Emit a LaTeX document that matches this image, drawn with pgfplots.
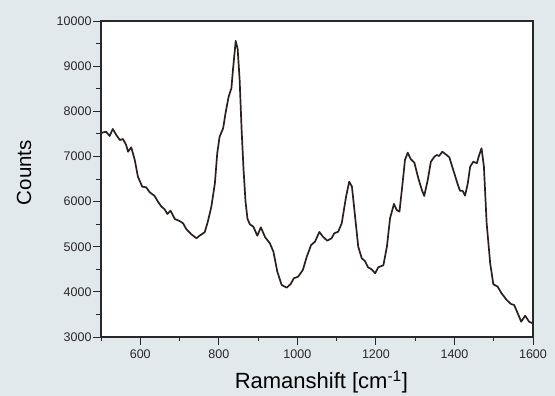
\documentclass[border=0pt]{standalone}
\usepackage{pgfplots}
\pgfplotsset{compat=1.18}
\usepackage{fontspec}
\setmainfont{Liberation Sans}
\definecolor{bgc}{RGB}{226,233,237}
\definecolor{linec}{RGB}{42,32,30}
\definecolor{axc}{RGB}{40,40,40}
\begin{document}
\begin{tikzpicture}
\fill[bgc] (-101pt,-59pt) rectangle (454pt,337pt);
\begin{axis}[
  at={(0,0)}, anchor=south west,
  scale only axis, width=432pt, height=316pt,
  xmin=500, xmax=1600, ymin=3000, ymax=10000,
  axis background/.style={fill=white},
  axis line style={axc, line width=1.1pt},
  xtick={600,800,...,1600}, minor xtick={500,700,...,1500},
  ytick={3000,4000,...,10000}, minor ytick={3500,4500,...,9500},
  scaled y ticks=false, scaled x ticks=false,
  xtick pos=bottom, ytick pos=left,
  tick align=outside,
  major tick length=8pt, minor tick length=4.5pt,
  every tick/.style={axc, line width=0.9pt},
  /pgf/number format/assume math mode=true,
  /pgf/number format/1000 sep={},
  tick label style={font=\fontsize{12.5}{14}\selectfont, text=axc},
  yticklabel style={xshift=2pt},
  xticklabel style={yshift=-1pt},
  xlabel={Ramanshift [cm\textsuperscript{-1}]},
  ylabel={Counts},
  xlabel style={font=\fontsize{22}{26}\selectfont, at={(axis description cs:0.51,-0.164)}, anchor=base},
  ylabel style={font=\fontsize{20.5}{24}\selectfont, at={(axis description cs:-0.178,0.52)}, anchor=center, rotate=0},
  clip=true,
]
\addplot[linec, line width=1.7pt, line join=round] coordinates {
(500,7520) (513,7548) (522,7453) (530,7608) (539,7475) (548,7364) (556,7386)
(564,7253) (569,7105) (577,7202) (586,6921) (594,6551) (605,6330) (615,6316)
(624,6206) (636,6130) (645,5998) (654,5887) (662,5829) (669,5725) (677,5798)
(688,5614) (700,5570) (709,5519) (717,5393) (730,5275) (743,5187) (751,5244)
(764,5320) (772,5554) (781,5887) (790,6405) (796,7070) (802,7437) (811,7623)
(817,7955) (825,8323) (832,8509) (836,8915) (843,9560) (848,9380) (853,8700)
(858,7600) (863,6700) (868,6000) (873,5620) (879,5497) (888,5444) (898,5244)
(907,5430) (918,5209) (930,5076) (939,4890) (949,4447) (960,4152) (973,4093)
(983,4175) (991,4301) (1002,4336) (1014,4485) (1024,4780) (1035,5038) (1045,5112)
(1056,5327) (1065,5222) (1076,5134) (1087,5187) (1094,5297) (1104,5333) (1113,5519)
(1124,6108) (1132,6440) (1139,6330) (1147,5665) (1155,5001) (1164,4743) (1172,4684)
(1180,4544) (1189,4500) (1198,4411) (1206,4544) (1219,4589) (1228,5000) (1236,5630)
(1246,5947) (1253,5814) (1260,5776) (1267,6330) (1274,6921) (1281,7083) (1289,6937)
(1298,6862) (1308,6516) (1317,6257) (1323,6124) (1332,6478) (1340,6884) (1349,6994)
(1355,7032) (1361,7010) (1369,7105) (1379,7039) (1387,6981) (1393,6810) (1401,6589)
(1408,6390) (1414,6242) (1421,6235) (1427,6131) (1434,6405) (1440,6773) (1448,6884)
(1457,6848) (1463,7032) (1469,7180) (1475,6773) (1482,5519) (1491,4633) (1499,4168)
(1510,4115) (1520,3967) (1533,3820) (1544,3731) (1552,3709) (1561,3526) (1570,3339)
(1580,3472) (1590,3339) (1600,3300)
};
\end{axis}
\pgfresetboundingbox
\path (-101pt,-59pt) rectangle (454pt,337pt);
\end{tikzpicture}
\end{document}
